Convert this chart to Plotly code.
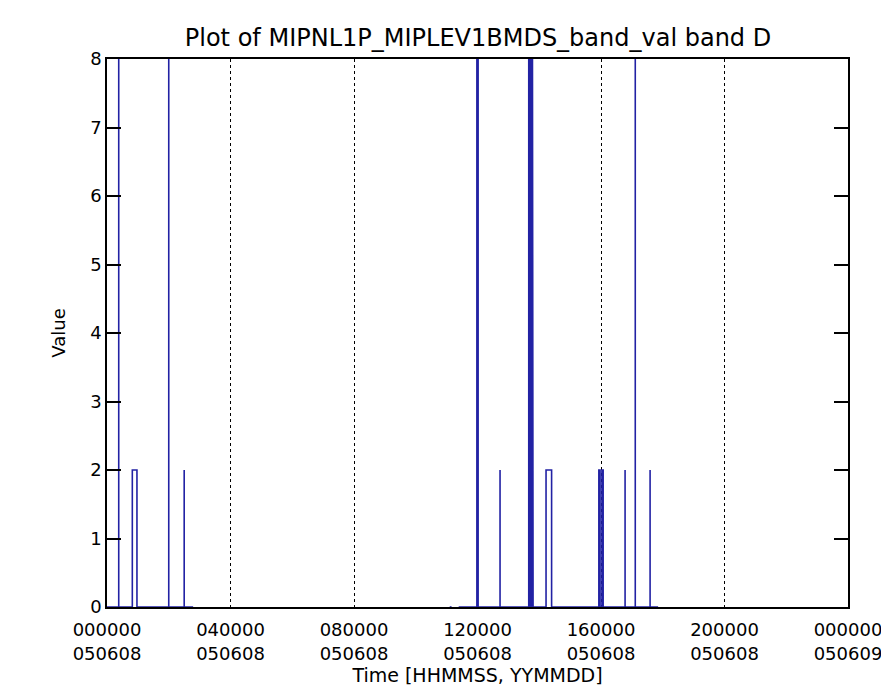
import plotly.graph_objects as go

# Time axis: seconds of the day 2005-06-08, ticks every 4 hours
tick_seconds = [0, 14400, 28800, 43200, 57600, 72000, 86400]
tick_labels = ['000000<br>050608', '040000<br>050608', '080000<br>050608',
               '120000<br>050608', '160000<br>050608', '200000<br>050608',
               '000000<br>050609']

# Stretches of data (hours) where the value sits at 0
seg_start_h = [0.00, 11.10, 11.39]
seg_end_h = [2.79, 11.16, 17.85]

# Spikes: start / end hour and value reached
spike_start_h = [0.38, 0.82, 2.00, 2.50, 11.98, 12.02, 12.73, 13.66, 13.70, 13.74, 13.78,
                 14.22, 15.93, 16.03, 16.78, 17.11, 17.59]
spike_end_h = [0.38, 0.97, 2.00, 2.50, 11.98, 12.02, 12.73, 13.66, 13.70, 13.74, 13.80,
               14.40, 15.97, 16.07, 16.78, 17.11, 17.59]
spike_value = [8, 2, 8, 2, 8, 8, 2, 8, 8, 8, 8, 2, 2, 2, 2, 8, 2]

x, y = [], []
for s0, s1 in zip(seg_start_h, seg_end_h):
    x.append(s0 * 3600); y.append(0)
    for a, b, v in zip(spike_start_h, spike_end_h, spike_value):
        if s0 <= a <= s1:
            x += [a * 3600, a * 3600, b * 3600, b * 3600]
            y += [0, v, v, 0]
    x.append(s1 * 3600); y.append(0)
    x.append(None); y.append(None)

fig = go.Figure()
fig.add_trace(go.Scatter(x=x, y=y, mode='lines', line=dict(color='#2222a4', width=1.6),
                         showlegend=False, hoverinfo='skip'))

font = 'DejaVu Sans'
fig.update_layout(
    width=889,
    height=697,
    margin=dict(l=99, r=49, t=51, b=98),
    plot_bgcolor='white',
    paper_bgcolor='white',
    font=dict(family=font, size=17, color='black'),
    title=dict(text='Plot of MIPNL1P_MIPLEV1BMDS_band_val band D', x=0.5287, xanchor='center',
               y=0.957, yanchor='middle', font=dict(size=24)),
    xaxis=dict(
        range=[0, 86400],
        tickmode='array',
        tickvals=tick_seconds,
        ticktext=tick_labels,
        ticks='',
        ticklabelstandoff=6,
        showgrid=True,
        gridcolor='black',
        gridwidth=1.2,
        griddash='dot',
        showline=True,
        linecolor='black',
        linewidth=1.5,
        mirror=True,
        zeroline=False,
        automargin=False,
        tickfont=dict(size=18),
        title=dict(text='Time [HHMMSS, YYMMDD]', font=dict(size=19), standoff=4),
    ),
    yaxis=dict(
        range=[0, 8],
        tickmode='array',
        tickvals=[0, 1, 2, 3, 4, 5, 6, 7, 8],
        ticks='inside',
        ticklen=14,
        tickwidth=1.5,
        tickcolor='black',
        showgrid=False,
        showline=True,
        linecolor='black',
        linewidth=1.5,
        mirror='ticks',
        zeroline=False,
        automargin=False,
        tickfont=dict(size=18),
        title=dict(text='Value', font=dict(size=18), standoff=20),
    ),
)

fig.write_html("out.html")
